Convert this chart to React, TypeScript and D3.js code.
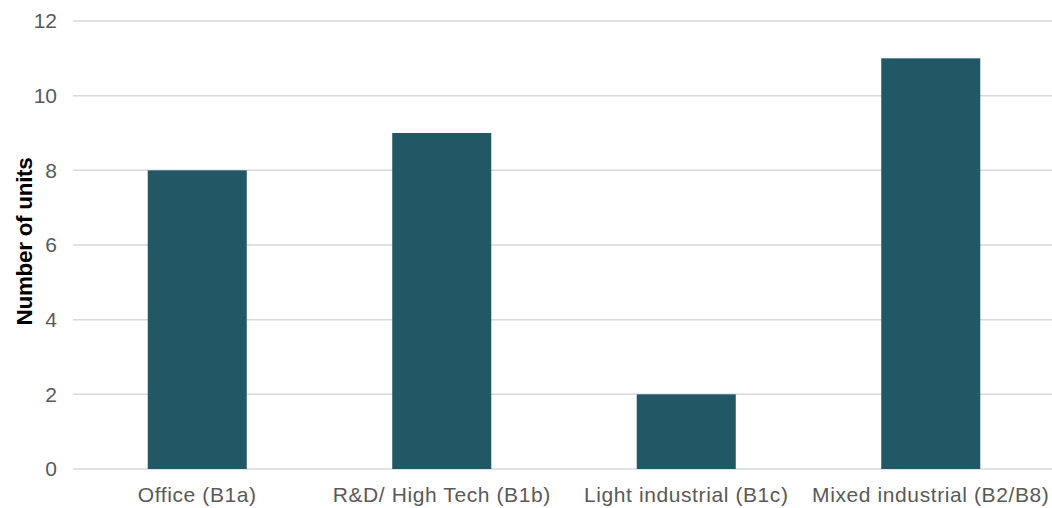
import React from "react";
import * as d3 from "d3";

const categories = ["Office (B1a)", "R&D/ High Tech (B1b)", "Light industrial (B1c)", "Mixed industrial (B2/B8)"];
const units = [8, 9, 2, 11];
const yTicks = [0, 2, 4, 6, 8, 10, 12];
const yTitle = "Number of units";

const W = 1052;
const H = 508;
const left = 75;
const right = 1053;
const top = 21;
const bottom = 469;

export default function App() {
  const x = d3.scaleBand<string>().domain(categories).range([left, right]).paddingInner(0.595).paddingOuter(0.2975);
  const y = d3.scaleLinear().domain([0, 12]).range([bottom, top]);
  const font = "'Liberation Sans', Arial, sans-serif";
  return (
    <svg width={W} height={H} style={{ position: "absolute", left: 0, top: 0, background: "#fff" }} fontFamily={font}>
      {yTicks.map((t) => (
        <g key={t}>
          <line x1={73} x2={W} y1={y(t)} y2={y(t)} stroke="#d9d9d9" strokeWidth={1.5} />
          <text x={57} y={y(t)} dy="0.35em" textAnchor="end" fontSize={21} fill="#595959">
            {t}
          </text>
        </g>
      ))}
      {categories.map((c, i) => (
        <rect key={c} x={x(c)} y={y(units[i])} width={x.bandwidth()} height={y(0) - y(units[i])} fill="#225866" />
      ))}
      {categories.map((c) => (
        <text key={c} x={(x(c) ?? 0) + x.bandwidth() / 2} y={502} textAnchor="middle" fontSize={21} letterSpacing={0.6} fill="#595959">
          {c}
        </text>
      ))}
      <text transform={`translate(32, ${(153 + 330) / 2}) rotate(-90)`} textAnchor="middle" fontSize={22.5} fontWeight="bold" letterSpacing={-0.3} fill="#000">
        {yTitle}
      </text>
    </svg>
  );
}
